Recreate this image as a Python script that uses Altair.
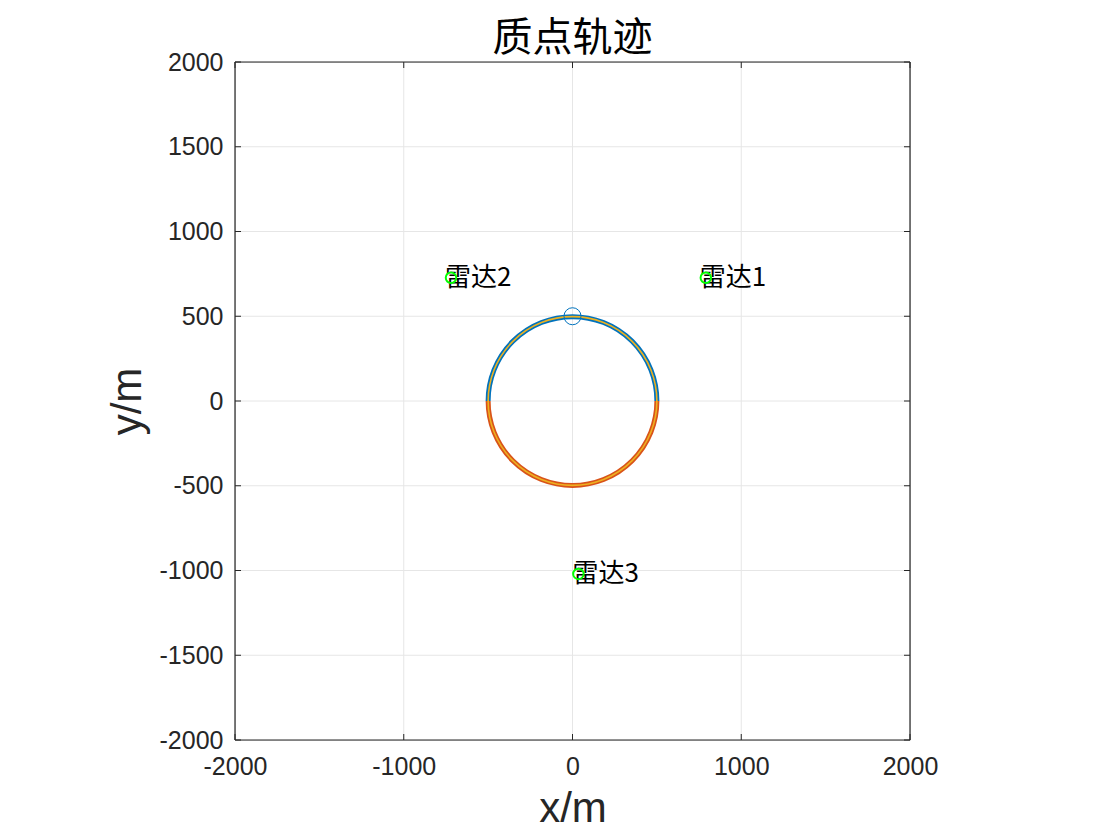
import math
import altair as alt
import pandas as pd

# ---- data ----
X_TICKS = [-2000, -1000, 0, 1000, 2000]
Y_TICKS = [-2000, -1500, -1000, -500, 0, 500, 1000, 1500, 2000]
radar_names = ["雷达1", "雷达2", "雷达3"]
radar_x = [790, -720, 35]
radar_y = [727, 727, -1020]
center_x = [0]
center_y = [0]
RADIUS = 500
start_x = [0]
start_y = [500]

# ---- style ----
W, H = 675, 678
DOMAIN = [-2000, 2000]
BLUE, ORANGE, YELLOW, GREEN = "#0072BD", "#D95319", "#EDB120", "#00FF00"
AX = "#262626"
GRID = "#e6e6e6"
TICK_LEN = 6

xs = alt.Scale(domain=DOMAIN, nice=False, zero=False)
ys = alt.Scale(domain=DOMAIN, nice=False, zero=False)

common = dict(grid=False, tickSize=0, domain=False, labelFlush=False,
              labelExpr="'' + datum.value", labelFontSize=25, labelFont="Liberation Sans",
              labelColor=AX, titleFont="Liberation Sans", titleFontSize=42,
              titleFontWeight="normal", titleColor=AX)
x_axis = alt.Axis(values=X_TICKS, title="x/m", labelPadding=14, titlePadding=9, **common)
y_axis = alt.Axis(values=Y_TICKS, title="y/m", labelPadding=12, titlePadding=10, **common)

center_df = pd.DataFrame({"x": center_x, "y": center_y})
radar_df = pd.DataFrame({"name": radar_names, "x": radar_x, "y": radar_y})
start_df = pd.DataFrame({"x": start_x, "y": start_y})
xt_df = pd.DataFrame({"v": X_TICKS})
yt_df = pd.DataFrame({"v": Y_TICKS})
xg_df = pd.DataFrame({"v": X_TICKS[1:-1]})
yg_df = pd.DataFrame({"v": Y_TICKS[1:-1]})
xe_df = pd.DataFrame({"v": [X_TICKS[0], X_TICKS[-1]]})
ye_df = pd.DataFrame({"v": [Y_TICKS[0], Y_TICKS[-1]]})

rpx = RADIUS * W / (DOMAIN[1] - DOMAIN[0])

base_axes = alt.Chart(center_df).mark_point(opacity=0).encode(
    x=alt.X("x:Q", scale=xs, axis=x_axis),
    y=alt.Y("y:Q", scale=ys, axis=y_axis),
)

grid_v = alt.Chart(xg_df).mark_rule(color=GRID, strokeWidth=1).encode(
    x=alt.X("v:Q", scale=xs), y=alt.value(0), y2=alt.value(H))
grid_h = alt.Chart(yg_df).mark_rule(color=GRID, strokeWidth=1).encode(
    y=alt.Y("v:Q", scale=ys), x=alt.value(0), x2=alt.value(W))


def arc(t0, t1, color, width):
    return alt.Chart(center_df).mark_arc(
        theta=t0, theta2=t1, radius=rpx, radius2=rpx, filled=False,
        stroke=color, strokeWidth=width, color=color
    ).encode(x=alt.X("x:Q", scale=xs), y=alt.Y("y:Q", scale=ys))


upper = arc(1.5 * math.pi, 2.5 * math.pi, BLUE, 5)
lower = arc(0.5 * math.pi, 1.5 * math.pi, ORANGE, 5)
mid = arc(0, 2 * math.pi, YELLOW, 1.6)

start_pt = alt.Chart(start_df).mark_point(shape="circle", filled=False, size=290,
                                          color=BLUE, strokeWidth=1, opacity=1).encode(
    x=alt.X("x:Q", scale=xs), y=alt.Y("y:Q", scale=ys))

radar_pts = alt.Chart(radar_df).mark_point(shape="circle", filled=False, size=110,
                                           color=GREEN, strokeWidth=2, opacity=1).encode(
    x=alt.X("x:Q", scale=xs), y=alt.Y("y:Q", scale=ys))

radar_txt = alt.Chart(radar_df).mark_text(align="left", baseline="middle", dx=-6, dy=0,
                                          font="Noto Sans CJK SC", fontSize=26, color="#000000").encode(
    x=alt.X("x:Q", scale=xs), y=alt.Y("y:Q", scale=ys), text="name:N")

tick_style = dict(color=AX, strokeWidth=1)
bt = alt.Chart(xt_df).mark_rule(**tick_style).encode(
    x=alt.X("v:Q", scale=xs), y=alt.value(H), y2=alt.value(H - TICK_LEN))
tt = alt.Chart(xt_df).mark_rule(**tick_style).encode(
    x=alt.X("v:Q", scale=xs), y=alt.value(0), y2=alt.value(TICK_LEN))
lt = alt.Chart(yt_df).mark_rule(**tick_style).encode(
    y=alt.Y("v:Q", scale=ys), x=alt.value(0), x2=alt.value(TICK_LEN))
rt = alt.Chart(yt_df).mark_rule(**tick_style).encode(
    y=alt.Y("v:Q", scale=ys), x=alt.value(W - TICK_LEN), x2=alt.value(W))

# box (MATLAB "box on")
edge_v = alt.Chart(xe_df).mark_rule(color=AX, strokeWidth=1.2).encode(
    x=alt.X("v:Q", scale=xs), y=alt.value(0), y2=alt.value(H))
edge_h = alt.Chart(ye_df).mark_rule(color=AX, strokeWidth=1.2).encode(
    y=alt.Y("v:Q", scale=ys), x=alt.value(0), x2=alt.value(W))

chart = alt.layer(grid_v, grid_h, base_axes, upper, lower, mid, start_pt, radar_txt, radar_pts,
                  bt, tt, lt, rt, edge_v, edge_h).properties(
    width=W, height=H,
    title=alt.TitleParams("质点轨迹", font="Noto Sans CJK SC", fontSize=40, fontWeight="normal",
                          color="#000000", offset=-9, anchor="middle"),
    autosize=alt.AutoSizeParams(type="none"),
    padding={"left": 227, "top": 54, "right": 150, "bottom": 87},
).configure_view(stroke=None).configure(background="white")

chart.save("out.html", embed_options={"renderer": "svg", "actions": False})
